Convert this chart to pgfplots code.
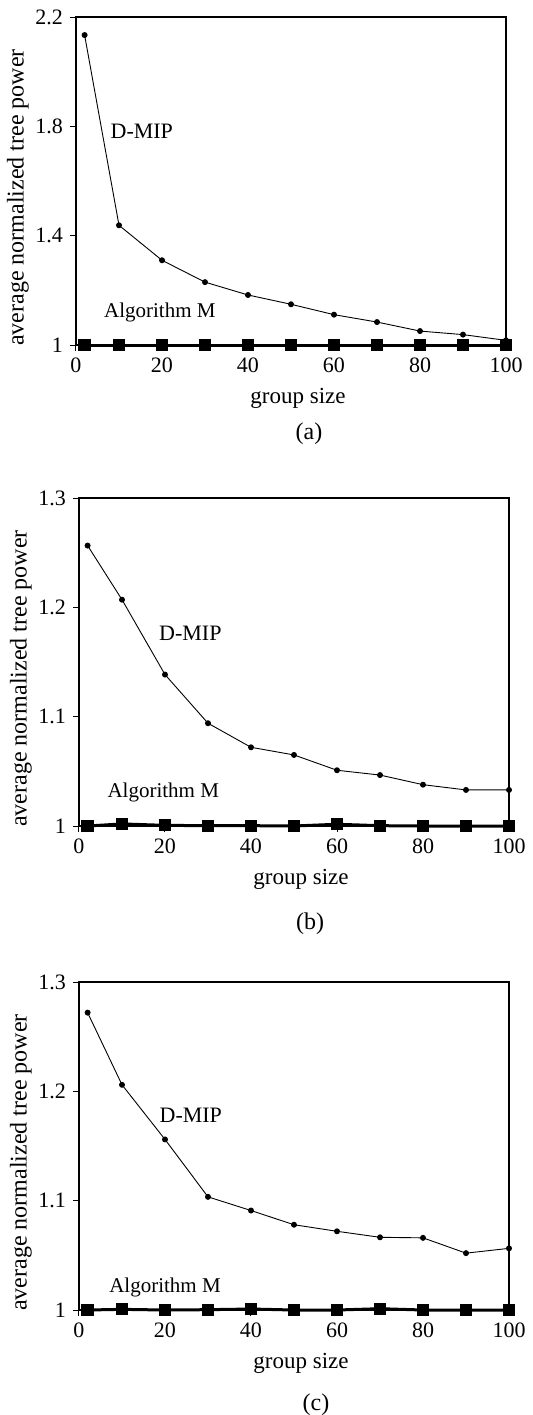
\documentclass[border=0pt]{standalone}
\usepackage{fontspec}
\setmainfont{Liberation Serif}
\usepackage{pgfplots}
\pgfplotsset{compat=1.18}

% group size vs. average normalized tree power, three cases
\pgfplotstableread{
x     dmip   algm
2     2.134  1.000
10    1.438  1.000
20    1.310  1.000
30    1.230  1.000
40    1.183  1.000
50    1.149  1.000
60    1.111  1.000
70    1.084  1.000
80    1.051  1.000
90    1.038  1.000
100   1.017  1.000
}\dataA
\pgfplotstableread{
x     dmip   algm
2     1.2565 1.0000
10    1.2070 1.0019
20    1.1385 1.0006
30    1.0940 1.0003
40    1.0720 1.0003
50    1.0650 1.0000
60    1.0510 1.0016
70    1.0466 1.0003
80    1.0378 1.0000
90    1.0330 1.0000
100   1.0330 1.0000
}\dataB
\pgfplotstableread{
x     dmip   algm
2     1.2720 1.0000
10    1.2060 1.0006
20    1.1560 1.0000
30    1.1035 1.0003
40    1.0910 1.0009
50    1.0780 1.0000
60    1.0720 1.0000
70    1.0665 1.0012
80    1.0660 1.0000
90    1.0520 1.0000
100   1.0564 1.0000
}\dataC

\pgfplotsset{
  panel/.style={
    scale only axis, width=215pt, height=164pt,
    xmin=0, xmax=100, xtick={0,20,...,100},
    axis line style={line width=0.6pt},
    tick align=outside, major tick length=3pt,
    tick style={black, line width=0.5pt},
    xtick pos=bottom, ytick pos=left,
    clip=false,
    /pgf/number format/assume math mode=true,
    ticklabel style={font=\fontsize{11}{12}\selectfont},
    every axis y label/.style={at={(axis description cs:-0.135,0.45)}, rotate=90, anchor=center},
    ylabel style={font=\fontsize{12}{13}\selectfont},
    every axis x label/.style={at={(axis description cs:0.5,0)}, anchor=base, xshift=3.5pt, yshift=-29pt},
    xlabel style={font=\fontsize{11.5}{13}\selectfont},
    xlabel={group size}, ylabel={average normalized tree power},
  },
  dmip/.style={black, line width=0.45pt, mark=*, mark size=1.25pt},
  algm/.style={black, line width=1.5pt, mark=square*, mark size=2.3pt},
}

\begin{document}
\begin{tikzpicture}
\path[use as bounding box] (-38pt,-535pt) rectangle (228.5pt,172.5pt);

% (a)
\begin{axis}[panel, at={(0pt,0pt)}, anchor=south west,
  ymin=1, ymax=2.2, ytick={1,1.4,1.8,2.2}, yticklabels={1,1.4,1.8,2.2}]
\addplot[dmip] table[x=x, y=dmip] {\dataA};
\addplot[algm] table[x=x, y=algm] {\dataA};
\node[font=\fontsize{11}{12}\selectfont] at (axis cs:15.3,1.78) {D-MIP};
\node[font=\fontsize{10.5}{12}\selectfont] at (axis cs:19.5,1.12) {Algorithm M};
\node[font=\fontsize{12}{13}\selectfont, anchor=base] at ([xshift=9pt,yshift=-47pt]current axis.south) {(a)};
\end{axis}

% (b)
\begin{axis}[panel, at={(1.5pt,-240.5pt)}, anchor=south west,
  ymin=1, ymax=1.3, ytick={1,1.1,1.2,1.3}, yticklabels={1,1.1,1.2,1.3}]
\addplot[dmip] table[x=x, y=dmip] {\dataB};
\addplot[algm] table[x=x, y=algm] {\dataB};
\node[font=\fontsize{11}{12}\selectfont] at (axis cs:25.9,1.1765) {D-MIP};
\node[font=\fontsize{10.5}{12}\selectfont] at (axis cs:19.6,1.0305) {Algorithm M};
\end{axis}
\node[font=\fontsize{12}{13}\selectfont, anchor=base] at (117pt,-292pt) {(b)};

% (c)
\begin{axis}[panel, at={(1.5pt,-482.5pt)}, anchor=south west,
  ymin=1, ymax=1.3, ytick={1,1.1,1.2,1.3}, yticklabels={1,1.1,1.2,1.3}]
\addplot[dmip] table[x=x, y=dmip] {\dataC};
\addplot[algm] table[x=x, y=algm] {\dataC};
\node[font=\fontsize{11}{12}\selectfont] at (axis cs:26,1.178) {D-MIP};
\node[font=\fontsize{10.5}{12}\selectfont] at (axis cs:20,1.021) {Algorithm M};
\end{axis}
\node[font=\fontsize{12}{13}\selectfont, anchor=base] at (120pt,-532.5pt) {(c)};
\end{tikzpicture}
\end{document}
